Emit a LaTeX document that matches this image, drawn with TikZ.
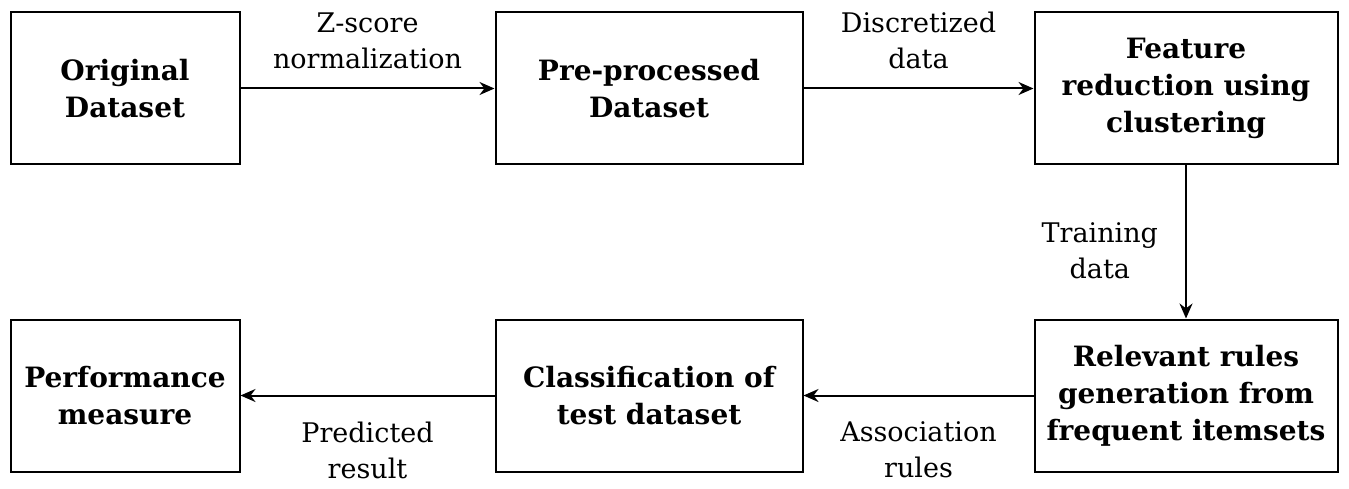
\documentclass[tikz,border=0pt]{standalone}
\usepackage{fontspec}
\setmainfont{DejaVu Serif}
\usepackage{tikz}
\usetikzlibrary{arrows.meta, positioning}

\begin{document}
\begin{tikzpicture}[
  x=1pt, y=-1pt,
  font=\fontsize{27}{36}\selectfont,
  box/.style={rectangle, draw, line width=2pt, minimum height=152pt,
              align=center, font=\fontsize{28}{37}\selectfont\bfseries},
  arrow/.style={-{Stealth[length=15pt, width=13pt]}, line width=2pt},
  lbl/.style={align=center, inner sep=0pt},
]
\useasboundingbox (0,0) rectangle (1349,489);

% top row
\node[box, minimum width=229pt] (orig) at (125,88.5) {Original\\Dataset};
\node[box, minimum width=307pt, right=254pt of orig] (prep) {Pre-processed\\Dataset};
\node[box, minimum width=303pt, right=230pt of prep] (feat) {Feature\\reduction using\\clustering};

% bottom row
\node[box, minimum width=303pt, below=153pt of feat] (rules) {Relevant rules\\generation from\\frequent itemsets};
\node[box, minimum width=307pt, below=153pt of prep] (clas) {Classification of\\test dataset};
\node[box, minimum width=229pt, below=153pt of orig] (perf) {Performance\\measure};

% connectors
\draw[arrow] (orig) -- node[lbl, above=19pt] {Z-score\\normalization} (prep);
\draw[arrow] (prep) -- node[lbl, above=19pt] {Discretized\\data} (feat);
\draw[arrow] (feat) -- node[lbl, left=27pt, yshift=-9pt] {Training\\data} (rules);
\draw[arrow] (rules) -- node[lbl, below=25pt] {Association\\rules} (clas);
\draw[arrow] (clas) -- node[lbl, below=25pt] {Predicted\\result} (perf);

\end{tikzpicture}
\end{document}
